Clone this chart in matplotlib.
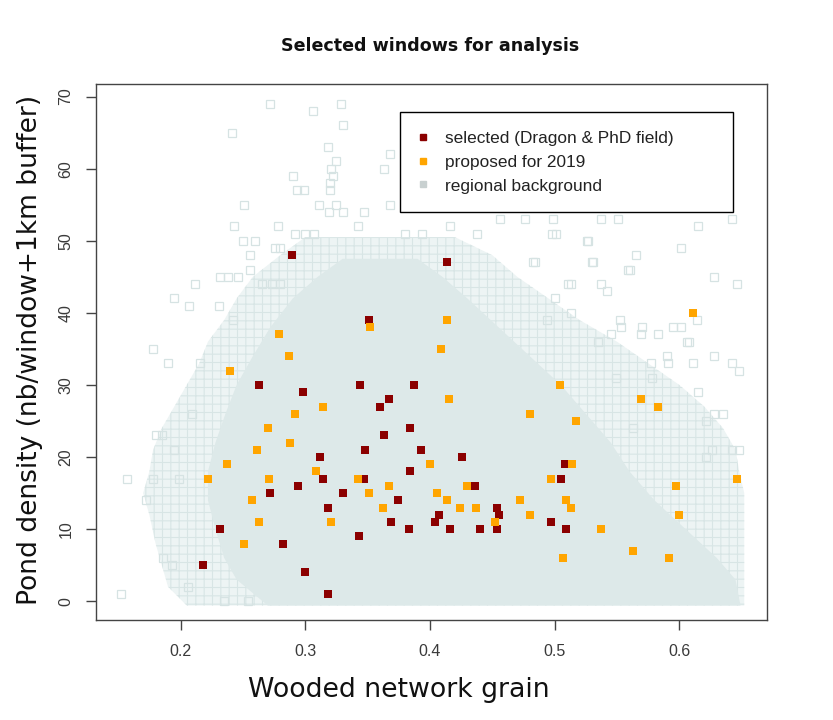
import numpy as np
import matplotlib.pyplot as plt
from matplotlib.lines import Line2D

# selected windows (Dragon & PhD field)
sel_x = [0.289, 0.414, 0.351, 0.263, 0.344, 0.387, 0.298, 0.367, 0.360, 0.384, 0.363,
         0.348, 0.393, 0.312, 0.426, 0.508, 0.384, 0.314, 0.347, 0.505, 0.294, 0.436,
         0.272, 0.330, 0.374, 0.318, 0.454, 0.455, 0.407, 0.404, 0.369, 0.497, 0.232,
         0.383, 0.416, 0.440, 0.454, 0.509, 0.343, 0.282, 0.218, 0.300, 0.318]
sel_y = [48, 47, 39, 30, 30, 30, 29, 28, 27, 24, 23,
         21, 21, 20, 20, 19, 18, 17, 17, 17, 16, 16,
         15, 15, 14, 13, 13, 12, 12, 11, 11, 11, 10,
         10, 10, 10, 10, 10, 9, 8, 5, 4, 1]

# proposed for 2019
prop_x = [0.611, 0.414, 0.352, 0.279, 0.409, 0.287, 0.240, 0.504, 0.415, 0.569, 0.314,
          0.583, 0.292, 0.480, 0.517, 0.270, 0.288, 0.261, 0.237, 0.400, 0.514, 0.309,
          0.222, 0.271, 0.342, 0.497, 0.646, 0.367, 0.430, 0.597, 0.351, 0.406, 0.257,
          0.414, 0.472, 0.509, 0.362, 0.424, 0.437, 0.513, 0.480, 0.600, 0.263, 0.321,
          0.452, 0.537, 0.251, 0.563, 0.507, 0.592]
prop_y = [40, 39, 38, 37, 35, 34, 32, 30, 28, 28, 27,
          27, 26, 26, 25, 24, 22, 21, 19, 19, 19, 18,
          17, 17, 17, 17, 17, 16, 16, 16, 15, 15, 14,
          14, 14, 14, 13, 13, 13, 13, 12, 12, 11, 11,
          11, 10, 8, 7, 6, 6]

# regional background: isolated windows read one by one
bg_x = [0.272, 0.306, 0.329, 0.330, 0.241, 0.318, 0.368, 0.325, 0.363, 0.321, 0.290,
        0.322, 0.293, 0.299, 0.251, 0.311, 0.325, 0.368, 0.347, 0.319, 0.330, 0.243,
        0.278, 0.342, 0.416, 0.292, 0.300, 0.307, 0.380, 0.394, 0.438, 0.456, 0.476,
        0.499, 0.501, 0.537, 0.551, 0.615, 0.642, 0.526, 0.601, 0.565, 0.559, 0.530,
        0.483, 0.511, 0.628, 0.646, 0.212, 0.195, 0.207, 0.231, 0.242, 0.178, 0.190,
        0.216, 0.552, 0.570, 0.583, 0.601, 0.608, 0.590, 0.628, 0.642, 0.611, 0.578,
        0.615, 0.628, 0.635, 0.563, 0.642, 0.621, 0.157, 0.178, 0.199, 0.172, 0.185,
        0.180, 0.209, 0.195, 0.152, 0.206, 0.235, 0.254, 0.193, 0.186,
        0.498, 0.527, 0.484, 0.531, 0.560, 0.513, 0.537, 0.542, 0.500, 0.513, 0.494,
        0.553, 0.595, 0.614, 0.545, 0.535, 0.569, 0.606, 0.577, 0.591, 0.648, 0.549,
        0.621, 0.626, 0.648, 0.250, 0.260, 0.256, 0.276, 0.280, 0.232, 0.238, 0.246,
        0.256, 0.265, 0.273, 0.280, 0.320, 0.320]
bg_y = [69, 68, 69, 66, 65, 63, 62, 61, 60, 60, 59,
        59, 57, 57, 55, 55, 55, 55, 54, 54, 54, 52,
        52, 52, 52, 51, 51, 51, 51, 51, 51, 53, 53,
        53, 51, 53, 53, 52, 53, 50, 49, 48, 46, 47,
        47, 44, 45, 44, 44, 42, 41, 41, 39, 35, 33,
        33, 39, 38, 37, 38, 36, 34, 34, 33, 33, 31,
        29, 26, 26, 24, 21, 20, 17, 17, 17, 14, 23,
        23, 26, 21, 1, 2, 0, 0, 5, 6,
        51, 50, 47, 47, 46, 44, 44, 43, 42, 40, 39,
        38, 38, 39, 37, 36, 37, 36, 33, 33, 32, 31,
        25, 21, 21, 50, 50, 48, 49, 49, 45, 45, 45,
        46, 44, 44, 44, 58, 57]

# regional background: outline of the packed cloud (per pond density level)
fringe_y = [-0.6, 2, 5, 8, 12, 15, 18, 21, 24, 27, 30, 33, 36, 39, 42, 45, 48, 50.5]
fringe_lo = [0.205, 0.19, 0.185, 0.18, 0.175, 0.17, 0.175, 0.178, 0.185, 0.195,
             0.205, 0.215, 0.222, 0.235, 0.245, 0.258, 0.28, 0.30]
fringe_hi = [0.652, 0.652, 0.652, 0.652, 0.652, 0.652, 0.648, 0.645, 0.635, 0.62,
             0.60, 0.575, 0.55, 0.52, 0.495, 0.47, 0.45, 0.42]

core_y = [-0.6, 3, 6, 10, 14, 18, 22, 26, 30, 34, 38, 42, 45, 47.5]
core_lo = [0.27, 0.245, 0.235, 0.228, 0.222, 0.222, 0.228, 0.236, 0.245, 0.258,
           0.272, 0.29, 0.31, 0.33]
core_hi = [0.649, 0.645, 0.63, 0.605, 0.58, 0.56, 0.545, 0.525, 0.505, 0.48,
           0.455, 0.43, 0.41, 0.39]

x_ticks = [0.2, 0.3, 0.4, 0.5, 0.6]
y_ticks = [0, 10, 20, 30, 40, 50, 60, 70]

bg_col = "#d6e3e3"
plt.rcParams["hatch.linewidth"] = 0.8

fig = plt.figure(figsize=(8.33, 7.2), dpi=100)
ax = fig.add_axes([0.1149, 0.1389, 0.8055, 0.744])

# packed background cloud
ax.fill_betweenx(fringe_y, fringe_lo, fringe_hi, facecolor="#edf4f4",
                 edgecolor="#d8e5e5", hatch="++", linewidth=0, zorder=1)
ax.fill_betweenx(core_y, core_lo, core_hi, facecolor="#dde9e9",
                 linewidth=0, zorder=1.5)
ax.plot(bg_x, bg_y, "s", ms=5.8, mfc="none", mec=bg_col, mew=0.9, zorder=2)

ax.plot(sel_x, sel_y, "s", ms=6, color="#8b0000", mew=0, zorder=3)
ax.plot(prop_x, prop_y, "s", ms=6, color="#ffa500", mew=0, zorder=4)

ax.set_xlim(0.132, 0.670)
ax.set_ylim(-2.6, 71.7)
ax.set_xticks(x_ticks)
ax.set_xticklabels([str(t) for t in x_ticks], fontsize=11.5, color="#3a3a3a",
                   family="Liberation Sans")
ax.set_yticks(y_ticks)
ax.set_yticklabels([str(t) for t in y_ticks], fontsize=11.5, color="#3a3a3a",
                   family="Liberation Sans", rotation=90, va="center")
ax.tick_params(direction="out", length=7, width=1, color="#444444")
ax.tick_params(axis="x", pad=10)
ax.tick_params(axis="y", pad=9)
for s in ax.spines.values():
    s.set_color("#444444")
    s.set_linewidth(1)

fig.text(430 / 833, 1 - 46 / 720, "Selected windows for analysis", ha="center",
         va="center", fontsize=12.6, fontweight="bold", color="#111111")
fig.text(399 / 833, 1 - 690 / 720, "Wooded network grain", ha="center",
         va="center", fontsize=19.3, color="#111111")
fig.text(30 / 833, 1 - 350 / 720, "Pond density (nb/window+1km buffer)", ha="center",
         va="center", rotation=90, fontsize=19.1, color="#111111")

handles = [
    Line2D([], [], ls="none", marker="s", ms=4.5, color="#8b0000"),
    Line2D([], [], ls="none", marker="s", ms=4.5, color="#ffa500"),
    Line2D([], [], ls="none", marker="s", ms=4.5, color="#c8d0d0"),
]
labels = ["selected (Dragon & PhD field)", "proposed for 2019", "regional background"]
leg = ax.legend(handles, labels, loc="upper left", mode="expand",
                bbox_to_anchor=(0.4535, 0.948, 0.4965, 0.0), borderaxespad=0,
                prop={"family": "Liberation Sans", "size": 12.4}, frameon=True,
                fancybox=False, framealpha=1, edgecolor="black", handlelength=0.5,
                handletextpad=1.0, borderpad=1.1, labelspacing=0.5)
leg.get_frame().set_linewidth(1)
for t in leg.get_texts():
    t.set_color("#222222")
leg.set_zorder(10)

fig.savefig("out.png", dpi=100)
